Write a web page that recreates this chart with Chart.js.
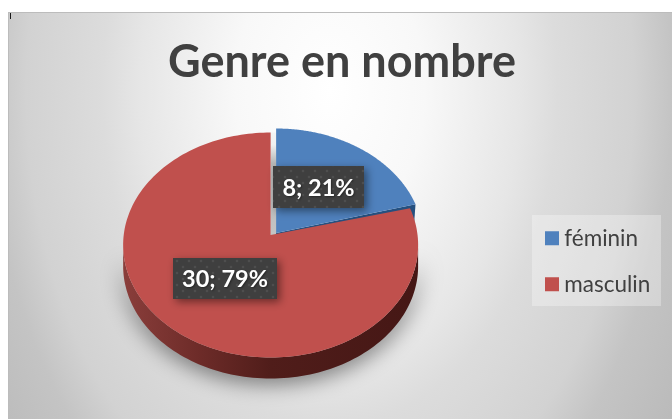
<!DOCTYPE html>
<html><head><meta charset="utf-8">
<style>html,body{margin:0;padding:0;background:#fff}canvas{display:block}</style>
<script src="https://cdn.jsdelivr.net/npm/chart.js@4/dist/chart.umd.min.js"></script>
</head><body><div style="width:672px;height:419px"><canvas id="c" width="672" height="419"></canvas></div>
<script>
const categories = ['féminin', 'masculin'];
const counts = [8, 30];
const sliceColors = ['#4f81bd', '#c0504d'];
const chartTitle = 'Genre en nombre';

const TILT = 0.7627, PERSP = -0.089, DEPTH = 21;
const total = counts.reduce((a, b) => a + b, 0);
const labelText = counts.map(v => v + '; ' + Math.round(v / total * 100) + '%');
const explode = [{dx: 5.5, dy: -4, apexDy: -2}, {dx: 0, dy: 0, apexDy: 0}];
const wallColor = ['#25507f', '#5a211e'];
const labelBoxes = [{x: 273, y: 166, w: 91, h: 42}, {x: 173, y: 258, w: 104, h: 41}];

function project(el, t, shift) {
  const cx = Math.cos(t), cy = Math.sin(t), d = 1 + PERSP * cy;
  const px = cx * Math.sqrt(1 - PERSP * PERSP) / d, py = (cy + PERSP) / d;
  return [el.x + shift.dx + px * el.outerRadius, el.y + shift.dy + py * el.outerRadius * TILT];
}
function apex(el, shift) {
  return [el.x + shift.dx, el.y + shift.apexDy + PERSP * el.outerRadius * TILT];
}
class Arc3D extends Chart.ArcElement {
  static id = 'arc3d';
  draw(ctx) {
    const p = this.getProps(['x', 'y', 'startAngle', 'endAngle', 'outerRadius']);
    const i = this.$context.dataIndex, s = explode[i];
    const N = 180, pts = [];
    for (let k = 0; k <= N; k++) pts.push(project(p, p.startAngle + (p.endAngle - p.startAngle) * k / N, s));
    const a = apex(p, s);
    ctx.save();
    // lower outer wall
    let lowest = pts.filter(q => q[1] >= p.y + s.dy - 0.5);
    ctx.beginPath();
    if (lowest.length) {
      lowest.sort((u, v) => u[0] - v[0]);
      lowest.forEach((q, n) => n ? ctx.lineTo(q[0], q[1]) : ctx.moveTo(q[0], q[1]));
      lowest.slice().reverse().forEach(q => ctx.lineTo(q[0], q[1] + DEPTH));
      ctx.closePath();
      const g = ctx.createLinearGradient(p.x - p.outerRadius, 0, p.x + p.outerRadius, 0);
      g.addColorStop(0, '#8a3e3b'); g.addColorStop(0.25, '#6e2c29'); g.addColorStop(0.5, '#501d1a'); g.addColorStop(1, '#451715');
      ctx.shadowColor = 'rgba(0,0,0,0.55)'; ctx.shadowBlur = 22; ctx.shadowOffsetY = 4;
      ctx.fillStyle = g; ctx.fill();
      ctx.shadowColor = 'transparent';
    } else {
      // radial wall at the trailing edge of a raised slice
      const e = pts[pts.length - 1];
      ctx.moveTo(a[0], a[1]); ctx.lineTo(e[0], e[1]); ctx.lineTo(e[0] - 1.5, e[1] + DEPTH); ctx.lineTo(a[0], a[1] + DEPTH); ctx.closePath();
      ctx.fillStyle = wallColor[i]; ctx.fill();
    }
    // top face
    ctx.beginPath(); ctx.moveTo(a[0], a[1]);
    pts.forEach(q => ctx.lineTo(q[0], q[1]));
    ctx.closePath();
    ctx.fillStyle = this.options.backgroundColor; ctx.fill();
    ctx.restore();
  }
}
class Pie3D extends Chart.PieController {
  static id = 'pie3d';
  static defaults = {dataElementType: 'arc3d'};
}
Chart.register(Arc3D, Pie3D);

function dotPattern(ctx) {
  const c = document.createElement('canvas'); c.width = c.height = 12;
  const x = c.getContext('2d');
  x.fillStyle = '#3f3f3f'; x.fillRect(0, 0, 12, 12);
  x.fillStyle = '#4e4e4e';
  [[3, 3], [9, 9]].forEach(d => { x.beginPath(); x.arc(d[0], d[1], 1.3, 0, 7); x.fill(); });
  return ctx.createPattern(c, 'repeat');
}

const decor = {
  id: 'decor',
  afterLayout(chart) {
    const lg = chart.legend, tb = chart.titleBlock;
    lg.left = 551 - 23.5; lg.top += 65; lg.bottom += 65;
    tb.left += 5; tb.right += 5;
  },
  beforeDraw(chart) {
    const c = chart.ctx;
    c.save();
    c.fillStyle = '#fff'; c.fillRect(0, 0, 672, 419);
    c.beginPath(); c.rect(8, 12, 664, 407); c.clip();
    // elliptical radial background
    c.save();
    c.translate(330, 90); c.scale(380, 560);
    const g = c.createRadialGradient(0, 0, 0, 0, 0, 1.1);
    g.addColorStop(0, '#ffffff'); g.addColorStop(0.227, '#f8f8f8'); g.addColorStop(0.455, '#e6e6e6');
    g.addColorStop(0.545, '#dcdcdc'); g.addColorStop(0.727, '#d2d2d2'); g.addColorStop(0.818, '#c4c4c4'); g.addColorStop(1, '#b9b9b9');
    c.fillStyle = g; c.fillRect(-2, -2, 4, 4);
    c.restore();
    c.fillStyle = '#bcbcbc'; c.fillRect(8, 12, 664, 1); c.fillRect(8, 12, 1, 407);
    c.fillStyle = '#1a1a1a'; c.fillRect(10, 13, 1, 6);
    // legend panel
    c.fillStyle = 'rgba(255,255,255,0.3)'; c.fillRect(532, 215, 129, 91);
    c.restore();
  },
  beforeDatasetsDraw(chart) {
    const c = chart.ctx, el = chart.getDatasetMeta(0).data[1];
    c.save();
    const top = el.y - el.outerRadius * TILT, bot = el.y + PERSP * el.outerRadius * TILT;
    const g = c.createLinearGradient(0, top, 0, bot);
    g.addColorStop(0, '#f4f4f4'); g.addColorStop(0.12, '#f0f0f0'); g.addColorStop(0.3, '#b5b5b5'); g.addColorStop(1, '#c4c4c4');
    c.fillStyle = g; c.fillRect(el.x, top, 6, bot - top + 1);
    c.restore();
  },
  afterDraw(chart) {
    const c = chart.ctx;
    c.save();
    labelBoxes.forEach((b, i) => {
      c.shadowColor = 'rgba(0,0,0,0.45)'; c.shadowBlur = 8; c.shadowOffsetX = 3; c.shadowOffsetY = 3;
      c.fillStyle = dotPattern(c); c.fillRect(b.x, b.y, b.w, b.h);
      c.shadowColor = 'rgba(0,0,0,0.4)'; c.shadowBlur = 2; c.shadowOffsetX = 1; c.shadowOffsetY = 1;
      c.fillStyle = '#fff'; c.font = 'bold 23.5px Lato'; c.textAlign = 'center'; c.textBaseline = 'middle';
      c.fillText(labelText[i], b.x + b.w / 2, b.y + b.h / 2 + 1);
    });
    c.restore();
  }
};

new Chart(document.getElementById('c'), {
  type: 'pie3d',
  data: {labels: categories, datasets: [{data: counts, backgroundColor: sliceColors, borderWidth: 0, hoverBorderWidth: 0}]},
  plugins: [decor],
  options: {
    responsive: false, animation: false, events: [],
    layout: {padding: {left: 2, right: 0, top: 0, bottom: 26.5}},
    plugins: {
      tooltip: {enabled: false},
      title: {display: true, text: chartTitle, color: '#404040', font: {family: 'Lato', weight: 'bold', size: 45, lineHeight: 1.2},
        padding: {top: 35, bottom: 8.5}},
      legend: {display: true, position: 'right', align: 'center', labels: {
        color: '#404040', font: {family: 'Lato', size: 22.5}, boxWidth: 2, boxHeight: 2, padding: 23.5,
        generateLabels(chart) {
          return Chart.overrides.pie.plugins.legend.labels.generateLabels(chart)
            .map(l => Object.assign(l, {lineWidth: 12, strokeStyle: l.fillStyle}));
        }
      }}
    }
  }
});
</script></body></html>
